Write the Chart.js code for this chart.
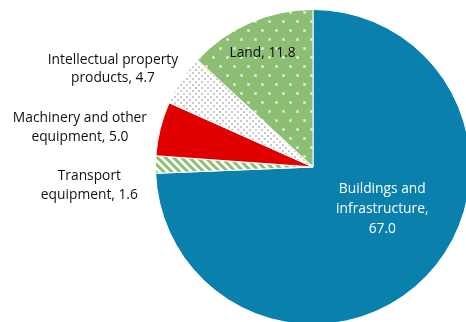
<!DOCTYPE html>
<html>
<head>
<meta charset="utf-8">
<script src="https://cdn.jsdelivr.net/npm/chart.js@4.4.0/dist/chart.umd.min.js"></script>
<style>
  html, body { margin: 0; padding: 0; background: #fff; overflow: hidden; }
  #wrap { position: relative; width: 480px; height: 326px; }
</style>
</head>
<body>
<div id="wrap"><canvas id="chart"></canvas></div>
<script>
// shares (order: clockwise from 12 o'clock)
var categories = ["Buildings and infrastructure", "Transport equipment", "Machinery and other equipment", "Intellectual property products", "Land"];
var values = [67.0, 1.6, 5.0, 4.7, 11.8];
var labelLines = [
  ["Buildings and", "infrastructure,", "67.0"],
  ["Transport", "equipment, 1.6"],
  ["Machinery and other", "equipment, 5.0"],
  ["Intellectual property", "products, 4.7"],
  ["Land, 11.8"]
];

function makePattern(w, h, draw) {
  var c = document.createElement("canvas");
  c.width = w; c.height = h;
  var g = c.getContext("2d");
  draw(g);
  return document.getElementById("chart").getContext("2d").createPattern(c, "repeat");
}

var green = "#8cbf74";

var landFill = makePattern(14, 18, function (g) {
  g.fillStyle = green;
  g.fillRect(0, 0, 14, 18);
  g.fillStyle = "rgba(255,255,255,0.45)";
  g.fillRect(2, 2, 3, 3);
  g.fillRect(9, 11, 3, 3);
  g.fillStyle = "#ffffff";
  g.fillRect(3, 3, 1, 1);
  g.fillRect(10, 12, 1, 1);
});

var ipFill = makePattern(6, 6, function (g) {
  g.fillStyle = "#fff";
  g.fillRect(0, 0, 6, 6);
  g.fillStyle = "#c8c8c8";
  g.fillRect(0, 0, 2, 2);
  g.fillRect(3, 3, 2, 2);
});

var transportFill = makePattern(8, 8, function (g) {
  g.fillStyle = "#fff";
  g.fillRect(0, 0, 8, 8);
  g.strokeStyle = green;
  g.lineWidth = 3;
  g.beginPath();
  g.moveTo(-4, -4); g.lineTo(12, 12);
  g.moveTo(-4, 4); g.lineTo(4, 12);
  g.moveTo(4, -4); g.lineTo(12, 4);
  g.stroke();
});

var colors = ["#0a80ad", transportFill, "#e00000", ipFill, landFill];

// where each label sits, relative to the pie centre, in radii
var labelPos = [[0.44, 0.27], [-1.42, 0.12], [-1.48, -0.25], [-1.27, -0.62], [-0.32, -0.725]];
var labelColor = ["#ffffff", "#111111", "#111111", "#111111", "#111111"];
var lineGap = [20, 19, 19, 18, 19];

var sliceLabels = {
  id: "sliceLabels",
  afterDatasetsDraw: function (chart) {
    var ctx = chart.ctx;
    var arc = chart.getDatasetMeta(0).data[0];
    var cx = arc.x, cy = arc.y, r = arc.outerRadius;
    ctx.save();
    ctx.font = "13.8px 'Open Sans', sans-serif";
    ctx.textAlign = "center";
    ctx.textBaseline = "middle";
    labelLines.forEach(function (lines, i) {
      var x = cx + labelPos[i][0] * r;
      var y = cy + labelPos[i][1] * r;
      var top = y - (lines.length - 1) * lineGap[i] / 2;
      ctx.fillStyle = labelColor[i];
      lines.forEach(function (t, k) {
        ctx.fillText(t, x, top + k * lineGap[i]);
      });
    });
    ctx.restore();
  }
};

new Chart("chart", {
  type: "pie",
  data: {
    labels: categories,
    datasets: [{
      data: values,
      backgroundColor: colors,
      borderColor: "#fff",
      borderWidth: 1
    }]
  },
  options: {
    responsive: true,
    maintainAspectRatio: false,
    animation: false,
    layout: { padding: { left: 146, right: 0, top: 9, bottom: 1 } },
    plugins: {
      legend: { display: false },
      tooltip: { enabled: false }
    }
  },
  plugins: [sliceLabels]
});
</script>
</body>
</html>
